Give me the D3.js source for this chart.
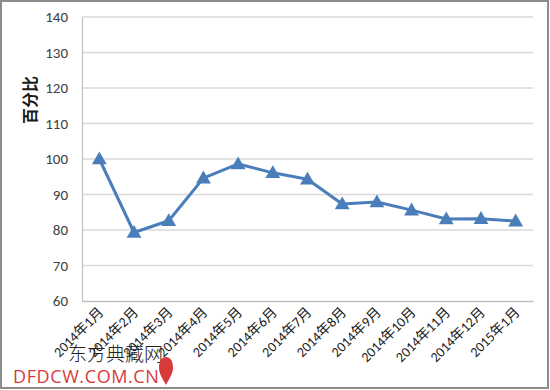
<!DOCTYPE html>
<html>
<head>
<meta charset="utf-8">
<script src="https://cdn.jsdelivr.net/npm/d3@7"></script>
<style>
  body { margin: 0; background: #fff; }
  svg text { font-family: Calibri, Carlito, "Liberation Sans", "Noto Sans CJK SC", sans-serif; }
</style>
</head>
<body>
<div id="chart"></div>
<script>
// chart values
const months = ["2014年1月", "2014年2月", "2014年3月", "2014年4月", "2014年5月", "2014年6月",
  "2014年7月", "2014年8月", "2014年9月", "2014年10月", "2014年11月", "2014年12月", "2015年1月"];
const percent = [100, 79.3, 82.6, 94.6, 98.6, 96.1, 94.3, 87.3, 87.9, 85.6, 83.1, 83.2, 82.5];
const yTicks = [60, 70, 80, 90, 100, 110, 120, 130, 140];
const yTitle = "百分比";

const width = 550, height = 390;
const margin = { top: 17, right: 17, bottom: 89, left: 82 };

const svg = d3.select("#chart").append("svg")
  .attr("width", width)
  .attr("height", height);

// outer frame
svg.append("rect")
  .attr("x", 1).attr("y", 1)
  .attr("width", width - 3).attr("height", height - 3)
  .attr("fill", "#fff")
  .attr("stroke", "#8c8c8c")
  .attr("stroke-width", 2);

const x = d3.scaleBand()
  .domain(months)
  .range([margin.left, width - margin.right]);

const y = d3.scaleLinear()
  .domain([60, 140])
  .range([height - margin.bottom, margin.top]);

// gridlines
svg.append("g")
  .selectAll("line")
  .data(yTicks.slice(1))
  .join("line")
  .attr("x1", margin.left)
  .attr("x2", width - margin.right)
  .attr("y1", d => y(d))
  .attr("y2", d => y(d))
  .attr("stroke", "#d9d9d9")
  .attr("stroke-width", 1.5);

// y axis
const yAxis = svg.append("g")
  .attr("transform", `translate(${margin.left},0)`)
  .call(d3.axisLeft(y).tickValues(yTicks).tickSize(0).tickPadding(14));
yAxis.select(".domain").attr("stroke", "#bfbfbf").attr("stroke-width", 1.2);
yAxis.selectAll("text")
  .attr("font-size", 15)
  .attr("fill", "#404040")
  .attr("font-family", "Carlito, Calibri, 'Liberation Sans', sans-serif");

// x axis
const xAxis = svg.append("g")
  .attr("transform", `translate(0,${y(60)})`)
  .call(d3.axisBottom(x).tickSize(0).tickPadding(0));
xAxis.select(".domain").attr("stroke", "#bfbfbf").attr("stroke-width", 1.5);
xAxis.selectAll("text")
  .attr("font-size", 14)
  .attr("fill", "#1a1a1a")
  .attr("text-anchor", "end")
  .attr("dy", 0)
  .attr("transform", "translate(5,12) rotate(-45)")
  .attr("font-family", "Carlito, 'Noto Sans CJK SC', sans-serif");

// y axis title
svg.append("text")
  .attr("transform", `translate(36,${y(116.6)}) rotate(-90)`)
  .attr("text-anchor", "middle")
  .attr("font-size", 16)
  .attr("font-weight", "bold")
  .attr("fill", "#1a1a1a")
  .style("font-family", "'Noto Sans CJK SC', sans-serif")
  .text(yTitle);

// line
const cx = d => x(d) + x.bandwidth() / 2;
svg.append("path")
  .datum(months.map((m, i) => [cx(m), y(percent[i])]))
  .attr("fill", "none")
  .attr("stroke", "#4a7ebb")
  .attr("stroke-width", 3)
  .attr("stroke-linejoin", "round")
  .attr("d", d3.line());

// triangle markers
svg.append("g")
  .selectAll("path")
  .data(months)
  .join("path")
  .attr("transform", (d, i) => `translate(${cx(d)},${y(percent[i]) + 1})`)
  .attr("d", d3.symbol(d3.symbolTriangle, 95))
  .attr("fill", "#4a7ebb");

// watermark
svg.append("text")
  .attr("x", 68).attr("y", 361)
  .attr("font-size", 19)
  .attr("fill", "#222")
  .style("font-family", "'Noto Sans CJK SC', sans-serif")
  .style("font-weight", 300)
  .text("东方典藏网");
svg.append("text")
  .attr("x", 13).attr("y", 383)
  .attr("font-size", 18)
  .attr("letter-spacing", 0.6)
  .attr("fill", "#d83a3c")
  .style("font-family", "'Open Sans', sans-serif")
  .text("DFDCW.COM.CN");
svg.append("path")
  .attr("d", "M166,357 C171,357 173,362 173,368 C173,374 169,379 166,385 C163,379 159,374 159,368 C159,362 161,357 166,357 Z")
  .attr("fill", "#d83a3c");
</script>
</body>
</html>
